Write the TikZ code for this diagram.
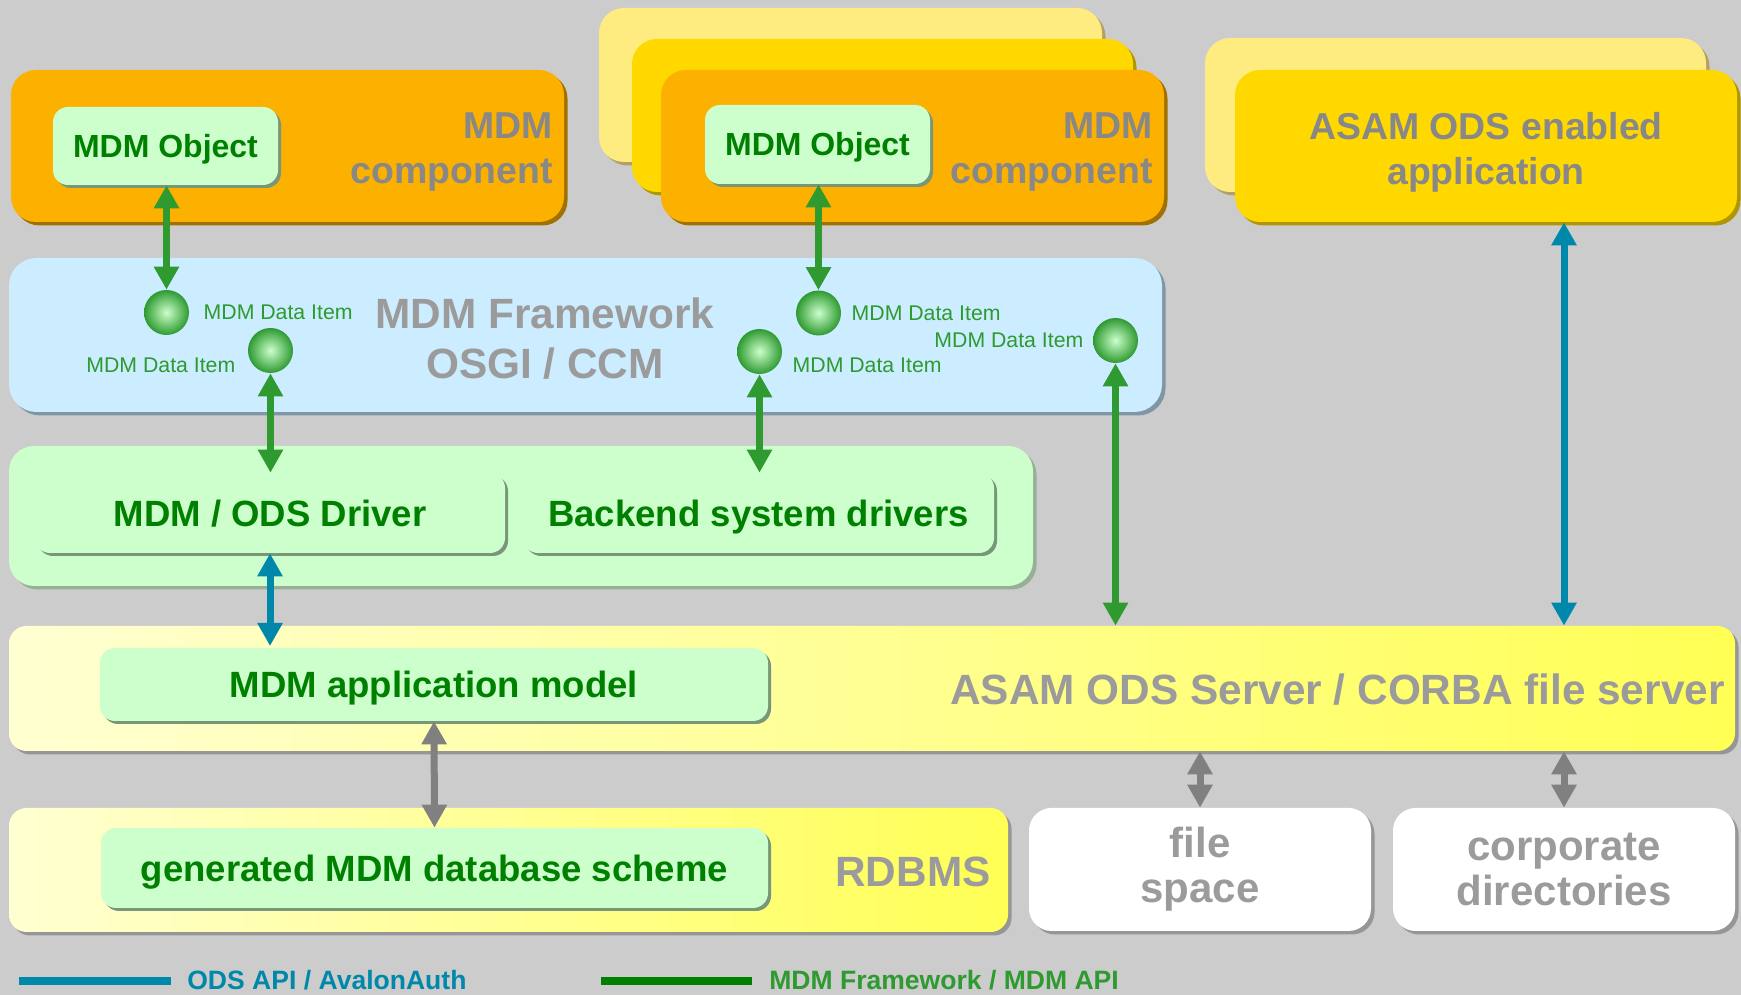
\documentclass[tikz,border=0pt]{standalone}
\usepackage{fontspec}
\setmainfont{Liberation Sans}
\usetikzlibrary{arrows.meta,shadows,positioning}
\definecolor{bggray}{RGB}{204,204,204}
\definecolor{mdmorange}{RGB}{252,176,0}
\definecolor{mdmorangedark}{RGB}{160,112,0}
\definecolor{mdmgold}{RGB}{255,216,0}
\definecolor{mdmgolddark}{RGB}{176,150,0}
\definecolor{mdmpale}{RGB}{255,236,128}
\definecolor{mdmpaledark}{RGB}{180,160,100}
\definecolor{fwblue}{RGB}{204,236,255}
\definecolor{fwbluedark}{RGB}{128,150,165}
\definecolor{drvgreen}{RGB}{204,255,204}
\definecolor{drvshadow}{RGB}{150,175,150}
\definecolor{innershadow}{RGB}{120,150,120}
\definecolor{grayshadow}{RGB}{150,150,150}
\definecolor{srvlight}{RGB}{255,255,210}
\definecolor{srvyellow}{RGB}{255,255,85}
\definecolor{textgreen}{RGB}{0,128,0}
\definecolor{arcgreen}{RGB}{46,154,48}
\definecolor{arcblue}{RGB}{0,136,170}
\definecolor{arcgray}{RGB}{128,128,128}
\definecolor{labelgray}{RGB}{136,136,136}
\definecolor{labelgraylight}{RGB}{155,155,155}
\tikzstyle{layer}=[rectangle,inner sep=0pt]
\tikzstyle{component}=[layer,rounded corners=0.5cm,fill=mdmorange,drop shadow={shadow xshift=0.07cm,shadow yshift=-0.07cm,opacity=1,fill=mdmorangedark}]
\tikzstyle{goldbox}=[layer,rounded corners=0.5cm,fill=mdmgold,drop shadow={shadow xshift=0.07cm,shadow yshift=-0.07cm,opacity=1,fill=mdmgolddark}]
\tikzstyle{palebox}=[layer,rounded corners=0.5cm,fill=mdmpale,drop shadow={shadow xshift=0.07cm,shadow yshift=-0.07cm,opacity=1,fill=mdmpaledark}]
\tikzstyle{framebox}=[layer,rounded corners=0.55cm,fill=fwblue,drop shadow={shadow xshift=0.07cm,shadow yshift=-0.07cm,opacity=1,fill=fwbluedark}]
\tikzstyle{drvbox}=[layer,rounded corners=0.5cm,fill=drvgreen,drop shadow={shadow xshift=0.07cm,shadow yshift=-0.07cm,opacity=1,fill=drvshadow}]
\tikzstyle{innerbox}=[layer,rounded corners=0.3cm,fill=drvgreen,text=textgreen,text height=14.9pt,text depth=0pt,font=\fontsize{20.8}{24}\selectfont\bfseries,drop shadow={shadow xshift=0.06cm,shadow yshift=-0.06cm,opacity=1,fill=innershadow}]
\tikzstyle{objectbox}=[innerbox,text height=13pt,font=\fontsize{18.2}{22}\selectfont\bfseries]
\tikzstyle{yellowbox}=[layer,rounded corners=0.35cm,left color=srvlight,right color=srvyellow,drop shadow={shadow xshift=0.07cm,shadow yshift=-0.07cm,opacity=1,fill=grayshadow}]
\tikzstyle{whitebox}=[layer,rounded corners=0.45cm,fill=white,text=labelgraylight,align=center,font=\fontsize{23.9}{25.5}\selectfont\bfseries,drop shadow={shadow xshift=0.07cm,shadow yshift=-0.07cm,opacity=1,fill=grayshadow}]
\tikzstyle{biglabel}=[inner sep=0pt,text=labelgray,font=\fontsize{21.3}{25.5}\selectfont\bfseries]
\tikzstyle{layerlabel}=[inner sep=0pt,text=labelgraylight,font=\fontsize{24.1}{28.5}\selectfont\bfseries]
\tikzstyle{dataitem}=[circle,minimum size=0.9cm,inner sep=0pt,inner color=drvgreen,outer color=arcgreen]
\tikzstyle{itemlabel}=[inner sep=0pt,text=arcgreen,font=\fontsize{12.1}{14}\selectfont]
\tikzstyle{arc}=[<->,>={Triangle[length=0.46cm,width=0.48cm]},line width=0.14cm]
\tikzstyle{greenarc}=[arc,arcgreen]
\tikzstyle{bluearc}=[arc,arcblue]
\tikzstyle{grayarc}=[arc,arcgray]
\tikzstyle{legendbar}=[rectangle,inner sep=0pt,minimum width=3.03cm,minimum height=0.16cm]
\tikzstyle{legendlabel}=[inner sep=0pt,anchor=base west,font=\fontsize{15.1}{18}\selectfont\bfseries]

\begin{document}
\begin{tikzpicture}

\useasboundingbox (0cm,0cm) rectangle (34.82cm,19.9cm);
\clip (0cm,0cm) rectangle (34.82cm,19.9cm);
\fill[bggray] (0cm,0cm) rectangle (34.82cm,19.9cm);

% components and application
\node[palebox,minimum width=10.06cm,minimum height=3.08cm] (compB2) at (17.01cm,18.2cm) {};
\node[goldbox,minimum width=10.02cm,minimum height=3.06cm] (compB1) at (17.65cm,17.59cm) {};
\node[component,minimum width=10.06cm,minimum height=3.04cm] (compB) at (18.25cm,16.98cm) {};
\node[component,minimum width=11.06cm,minimum height=3.04cm] (compA) at (5.75cm,16.98cm) {};
\node[palebox,minimum width=10.02cm,minimum height=3.08cm] (app1) at (29.11cm,17.6cm) {};
\node[goldbox,minimum width=10.04cm,minimum height=3.04cm] (app) at (29.72cm,16.98cm) {};

\node[objectbox,minimum width=4.5cm,minimum height=1.56cm] (objA) at (3.31cm,16.98cm) {MDM Object};
\node[objectbox,minimum width=4.5cm,minimum height=1.58cm] (objB) at (16.35cm,17.01cm) {MDM Object};

\node[biglabel,anchor=east,align=right] (compAtext) at (11.06cm,16.86cm) {MDM\\component};
\node[biglabel,anchor=east,align=right] (compBtext) at (23.06cm,16.86cm) {MDM\\component};
\node[biglabel,align=center] (apptext) at (29.72cm,16.86cm) {ASAM ODS enabled\\application};

% framework
\node[framebox,minimum width=23.06cm,minimum height=3.08cm] (framework) at (11.71cm,13.2cm) {};
\node[layerlabel,align=center] (frameworktext) at (10.9cm,13.12cm) {MDM Framework\\OSGI / CCM};

\node[dataitem] (d1) at (3.33cm,13.65cm) {};
\node[itemlabel,right=0.28cm of d1] (d1text) {MDM Data Item};
\node[dataitem] (d2) at (5.41cm,12.89cm) {};
\node[itemlabel,left=0.24cm of d2,yshift=-0.29cm] (d2text) {MDM Data Item};
\node[dataitem] (d3) at (16.37cm,13.64cm) {};
\node[itemlabel,right=0.2cm of d3] (d3text) {MDM Data Item};
\node[dataitem] (d4) at (15.19cm,12.87cm) {};
\node[itemlabel,right=0.2cm of d4,yshift=-0.27cm] (d4text) {MDM Data Item};
\node[dataitem] (d5) at (22.31cm,13.09cm) {};
\node[itemlabel,left=0.18cm of d5] (d5text) {MDM Data Item};

% drivers
\node[drvbox,minimum width=20.48cm,minimum height=2.8cm] (drivers) at (10.42cm,9.58cm) {};
\node[innerbox,minimum width=9.4cm,minimum height=1.6cm] (odsdrv) at (5.4cm,9.64cm) {MDM / ODS Driver};
\node[innerbox,minimum width=9.42cm,minimum height=1.6cm] (backend) at (15.17cm,9.64cm) {Backend system drivers};

% server
\node[yellowbox,minimum width=34.52cm,minimum height=2.5cm] (server) at (17.44cm,6.13cm) {};
\node[innerbox,minimum width=13.36cm,minimum height=1.46cm] (appmodel) at (8.68cm,6.21cm) {MDM application model};
\node[layerlabel,anchor=base east] (servertext) at (34.5cm,5.8cm) {ASAM ODS Server / CORBA file server};
\coordinate (srvin) at (5.4cm,6.98cm);

% storage
\node[yellowbox,minimum width=19.98cm,minimum height=2.48cm] (rdbms) at (10.17cm,2.5cm) {};
\node[innerbox,minimum width=13.34cm,minimum height=1.6cm] (scheme) at (8.69cm,2.54cm) {generated MDM database scheme};
\node[layerlabel,anchor=base east] (rdbmstext) at (19.82cm,2.16cm) {RDBMS};
\node[whitebox,minimum width=6.84cm,minimum height=2.46cm] (filespace) at (24cm,2.51cm) {file\\space};
\node[whitebox,minimum width=6.84cm,minimum height=2.46cm] (corpdir) at (31.28cm,2.51cm) {corporate\\directories};

\draw[greenarc] (objA.south -| d1) -- (d1.north);
\draw[greenarc] (d2.south) -- (d2 |- odsdrv.north);
\draw[greenarc] (objB.south -| d3) -- (d3.north);
\draw[greenarc] (d4.south) -- (d4 |- backend.north);
\draw[greenarc] (d5.south) -- (d5 |- server.north);
\draw[bluearc] (app.south -| corpdir) -- (corpdir |- server.north);
\draw[bluearc] (odsdrv.south) -- (srvin);
\draw[grayarc] (appmodel.south) -- (scheme.north);
\draw[grayarc] (filespace |- server.south) -- (filespace.north);
\draw[grayarc] (corpdir |- server.south) -- (corpdir.north);

% legend
\node[legendbar,fill=arcblue] (legendods) at (1.9cm,0.27cm) {};
\node[legendlabel,text=arcblue] (legendodstext) at (3.74cm,0.1cm) {ODS API / AvalonAuth};
\node[legendbar,fill=textgreen] (legendmdm) at (13.53cm,0.27cm) {};
\node[legendlabel,text=arcgreen] (legendmdmtext) at (15.38cm,0.1cm) {MDM Framework / MDM API};

\end{tikzpicture}
\end{document}
